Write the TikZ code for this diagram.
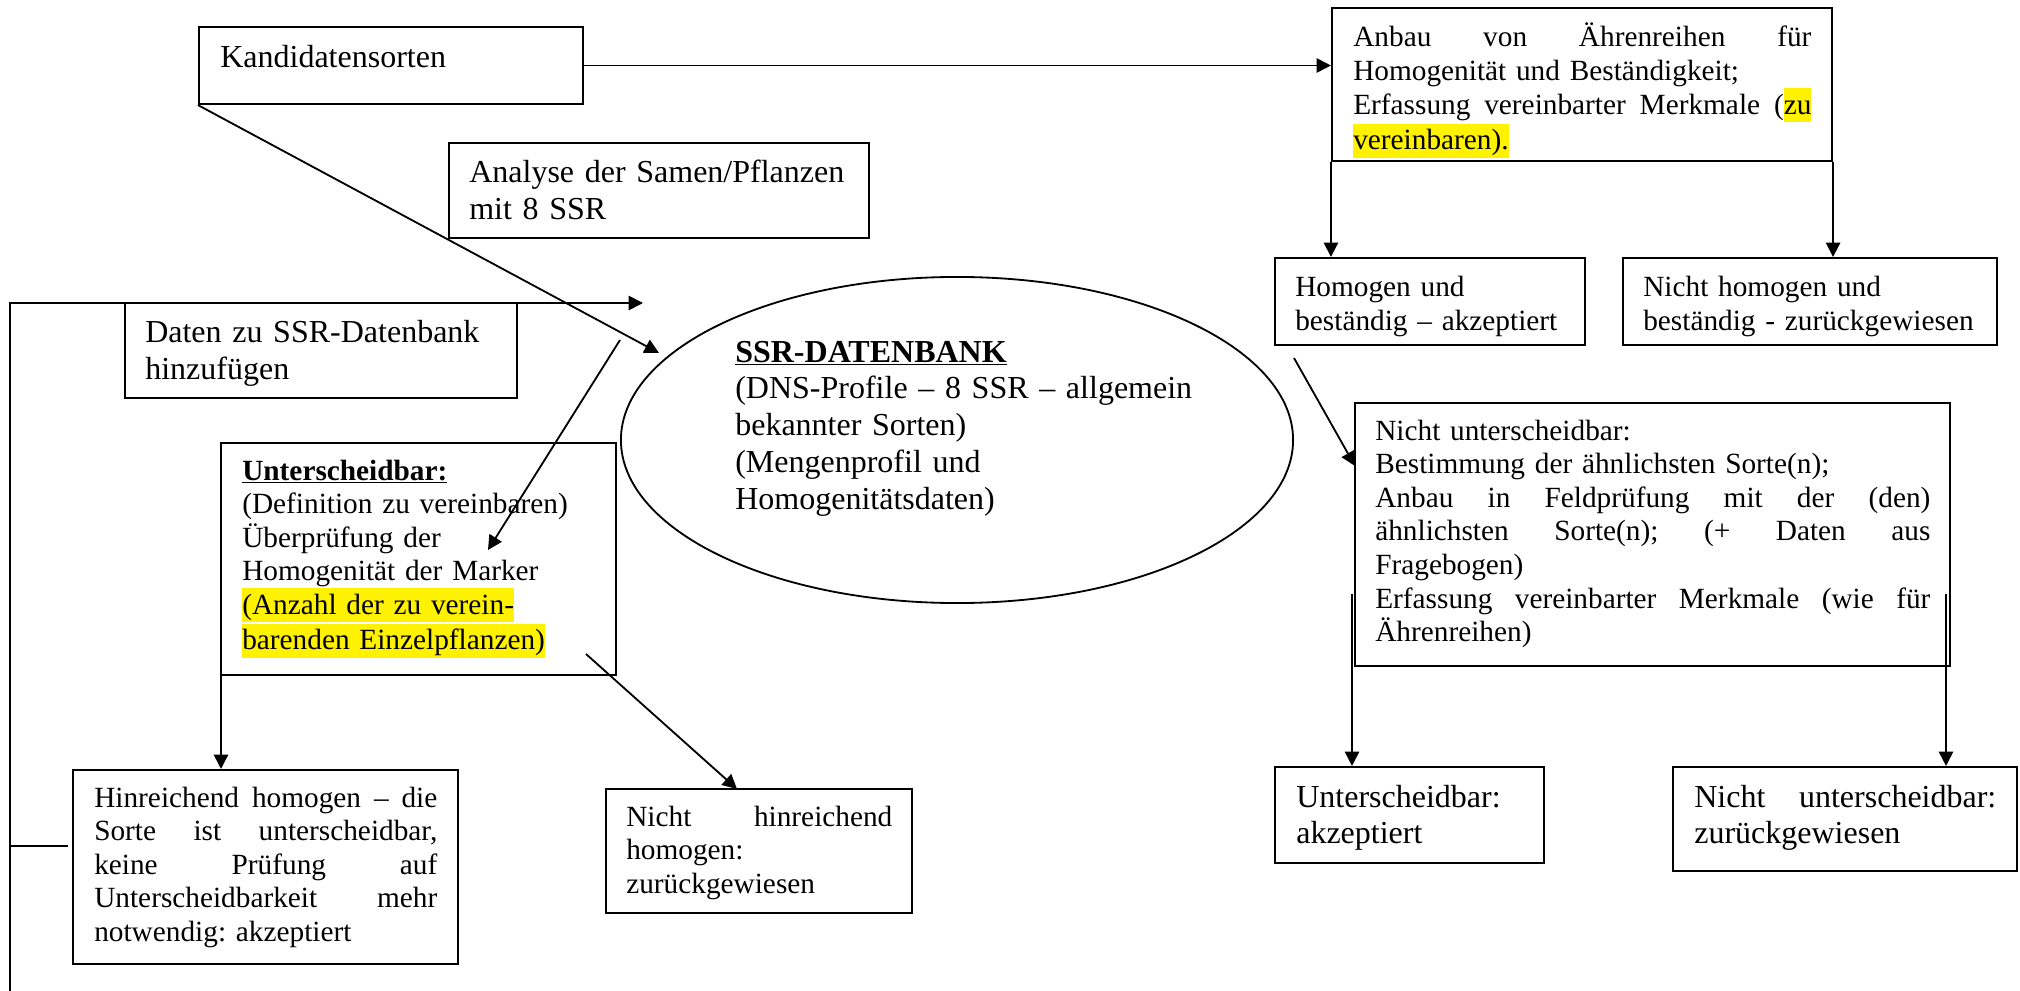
\documentclass[tikz,border=0pt]{standalone}
\usepackage{fontspec}
\setmainfont{Liberation Serif}
\usetikzlibrary{arrows.meta,shapes.geometric,fit}
\hbadness=10000 \hfuzz=50pt
\frenchspacing
\newcommand\jl[1]{{\spaceskip=0pt\xspaceskip=0pt\makebox[\linewidth][s]{#1}}}
\newcommand\hlt[1]{{\setlength{\fboxsep}{0pt}\colorbox{yellow}{\rule[-0.27em]{0pt}{1.16em}#1}}}
\newcommand\smf{\fontsize{20.84pt}{23.9pt}\selectfont\frenchspacing}
\newcommand\lgf{\fontsize{22.76pt}{26.2pt}\selectfont\frenchspacing}
\tikzset{
  bx/.style={draw, line width=1.5pt, inner sep=0pt},
  txs/.style={inner sep=0pt, anchor=base west, font=\smf},
  txl/.style={inner sep=0pt, anchor=base west, font=\lgf},
  ln/.style={line width=1.3pt},
  arr/.style={line width=1.3pt, -{Triangle[length=0.36cm,width=0.36cm]}}
}
\begin{document}
\begin{tikzpicture}[x=0.025cm,y=-0.025cm]
\useasboundingbox (0,0) rectangle (2020,991);
% boxes
\node[bx, fit={(199,27)(583,104)}] (kand) {};
\node[bx, fit={(449,143)(869,238)}] (anal) {};
\node[bx, fit={(125,303)(517,398)}] (daten) {};
\node[bx, fit={(1332,8)(1832,161)}] (anbau) {};
\node[bx, fit={(1275,258)(1585,345)}] (homog) {};
\node[bx, fit={(1623,258)(1997,345)}] (nhomog) {};
\node[bx, fit={(221,443)(616,675)}] (unt) {};
\node[bx, fit={(73,770)(458,964)}] (hin) {};
\node[bx, fit={(606,789)(912,913)}] (nhin) {};
\node[bx, fit={(1355,403)(1950,666)}] (nunt) {};
\node[bx, fit={(1275,767)(1544,863)}] (uakz) {};
\node[bx, fit={(1673,767)(2017,871)}] (nuzur) {};
\node[draw, ellipse, line width=1.3pt, minimum width=16.8cm, minimum height=8.15cm, inner sep=0pt] (db) at (957,440) {};
% texts
\node[txl, text width=9cm] (kandt) at (220,68) {Kandidatensorten};
\node[txl, text width=9.75cm] (analt) at (469,183) {Analyse der Samen/Pflanzen\\mit 8 SSR};
\node[txl, text width=9cm] (datent) at (145,343) {Daten zu SSR-Datenbank\\hinzufügen};
\node[txs, text width=11.45cm] (anbaut) at (1353,47) {\jl{Anbau von Ährenreihen für}\\Homogenität und Beständigkeit;\\\jl{Erfassung vereinbarter Merkmale (\hlt{zu}}\\\hlt{vereinbaren).}};
\node[txs, text width=7cm] (homogt) at (1295,297) {Homogen und\\beständig – akzeptiert};
\node[txs, text width=8.5cm] (nhomogt) at (1643,297) {Nicht homogen und\\beständig - zurückgewiesen};
\node[txl, text width=11.5cm] (dbt) at (735,362) {\underline{\textbf{SSR-DATENBANK}}\\(DNS-Profile – 8 SSR – allgemein\\bekannter Sorten)\\(Mengenprofil und\\Homogenitätsdaten)};
\node[txs, text width=9cm] (untt) at (242,480) {\underline{\textbf{Unterscheidbar:}}\\(Definition zu vereinbaren)\\Überprüfung der\\Homogenität der Marker\\\hlt{(Anzahl der zu verein-}\\\hlt{barenden Einzelpflanzen)}};
\node[txs, text width=8.575cm] (hint) at (94,807) {\jl{Hinreichend homogen – die}\\\jl{Sorte ist unterscheidbar,}\\\jl{keine Prüfung auf}\\\jl{Unterscheidbarkeit mehr}\\notwendig: akzeptiert};
\node[txs, text width=6.65cm] (nhint) at (626,826) {\jl{Nicht hinreichend}\\homogen:\\zurückgewiesen};
\node[txs, text width=13.875cm] (nuntt) at (1375,440) {Nicht unterscheidbar:\\Bestimmung der ähnlichsten Sorte(n);\\\jl{Anbau in Feldprüfung mit der (den)}\\\jl{ähnlichsten Sorte(n); (+ Daten aus}\\Fragebogen)\\\jl{Erfassung vereinbarter Merkmale (wie für}\\Ährenreihen)};
\node[txl, text width=6cm] (uakzt) at (1296,807) {Unterscheidbar:\\akzeptiert};
\node[txl, text width=7.55cm] (nuzurt) at (1694,807) {\jl{Nicht unterscheidbar:}\\zurückgewiesen};
% coordinates
\coordinate (t1) at (659,353);
\coordinate (fbtick) at (68,846);
\coordinate (fbmid) at (10,846);
\coordinate (fbbot) at (10,991);
\coordinate (fbtop) at (10,303);
\coordinate (fbtip) at (643,303);
\coordinate (s1) at (620,340);
\coordinate (t2) at (488,550);
\coordinate (s2) at (221,653);
\coordinate (s3) at (586,654);
\coordinate (t3) at (737,789);
\coordinate (s4) at (1294,358);
\coordinate (t4) at (1355,466);
\coordinate (s5) at (1352,594);
\coordinate (s6) at (1946,594);
% connectors
\draw[arr] (kand.east) -- (kand.east -| anbau.west);
\draw[arr] (kand.south west) -- (t1);
\draw[ln] (fbtick) -- (fbmid);
\draw[arr] (fbbot) -- (fbtop) -- (fbtip);
\draw[arr] (s1) -- (t2);
\draw[arr] (s2) -- (s2 |- hin.north);
\draw[arr] (s3) -- (t3);
\draw[arr] (anbau.south west) -- (anbau.south west |- homog.north);
\draw[arr] (anbau.south east) -- (anbau.south east |- nhomog.north);
\draw[arr] (s4) -- (t4);
\draw[arr] (s5) -- (s5 |- uakz.north);
\draw[arr] (s6) -- (s6 |- nuzur.north);
\end{tikzpicture}
\end{document}
